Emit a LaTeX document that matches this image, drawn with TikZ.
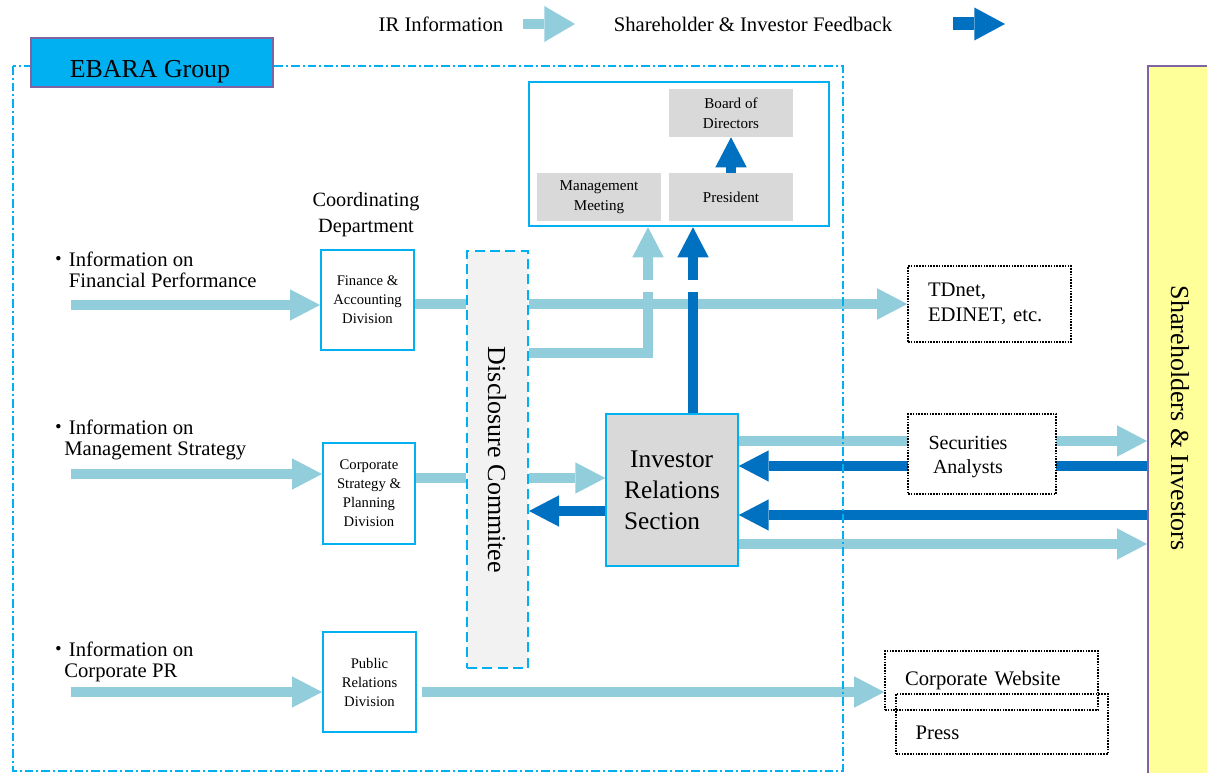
\documentclass[tikz,border=0pt]{standalone}
\usepackage{fontspec}
\setmainfont{Liberation Serif}
\newfontfamily\cjk{Noto Sans CJK JP}
\usetikzlibrary{arrows.meta,calc}
\definecolor{ltc}{HTML}{92CDDC}
\definecolor{dkc}{HTML}{0070C0}
\definecolor{cyc}{HTML}{00B0F0}
\definecolor{grc}{HTML}{D9D9D9}
\definecolor{dsc}{HTML}{F2F2F2}
\definecolor{yel}{HTML}{FFFF99}
\definecolor{pur}{HTML}{8064A2}
\begin{document}
\begin{tikzpicture}[x=0.75pt,y=-0.75pt,
  lt/.style={draw=ltc,line width=7.5pt,-{Triangle[length=22.5pt,width=23.5pt,line width=0pt]}},
  ltl/.style={draw=ltc,line width=7.5pt},
  dk/.style={draw=dkc,line width=7.5pt,-{Triangle[length=22.5pt,width=23.5pt,line width=0pt]}},
  dkl/.style={draw=dkc,line width=7.5pt},
  divbox/.style={draw=cyc,line width=1.5pt,fill=white,inner sep=0pt,minimum width=69.75pt,minimum height=75pt,align=center,font=\fontsize{11}{14.25}\selectfont},
  graybox/.style={fill=grc,inner sep=0pt,minimum width=93pt,minimum height=36pt,align=center,font=\fontsize{11.3}{15}\selectfont},
  dotbox/.style={draw=black,line width=1.2pt,dash pattern=on 1.2pt off 0.9pt,inner sep=0pt},
  lbl/.style={inner sep=0pt,font=\fontsize{15.5}{19}\selectfont}]
\fill[white] (0,0) rectangle (1207,773);
\useasboundingbox (0,0) rectangle (1207,773);

% shareholders bar
\node[draw=pur,line width=1.5pt,fill=yel,inner sep=0pt,minimum width=50.25pt,minimum height=535.5pt] (sh) at (1181.5,423) {};
\node[lbl,rotate=-90,font=\fontsize{19.5}{22}\selectfont] (shtxt) at (1180,418) {Shareholders \& Investors};

% management
\node[draw=cyc,line width=1.9pt,inner sep=0pt,minimum width=225pt,minimum height=108pt] (mgmt) at (679,154) {};
\node[graybox] (board) at (731,113) {Board of\\Directors};
\node[graybox] (meet) at (599,197) {Management\\Meeting};
\node[graybox] (pres) at (731,197) {President};
\draw[dk,line width=7pt] (pres.north) -- (board.south);

% disclosure committee
\node[draw=cyc,fill=dsc,line width=1.5pt,dash pattern=on 7.5pt off 4pt,inner sep=0pt,minimum width=45.75pt,minimum height=312.75pt] (disc) at (497.5,459.5) {};
\node[rotate=-90,inner sep=0pt,font=\fontsize{19.5}{22}\selectfont] (disctxt) at (497,460) {Disclosure Commitee};

% divisions
\node[lbl,align=center,font=\fontsize{15.2}{19.5}\selectfont] (coord) at (366,215) {Coordinating\\Department};
\node[divbox] (fin) at (367.5,300) {Finance \&\\Accounting\\Division};
\node[divbox,minimum width=69pt,minimum height=75.75pt] (cs) at (369,493.5) {Corporate\\Strategy \&\\Planning\\Division};
\node[divbox] (pr) at (369.5,682) {Public\\Relations\\Division};

% IR section
\node[draw=cyc,fill=grc,line width=1.1pt,inner sep=0pt,minimum width=99pt,minimum height=114pt,align=left,font=\fontsize{19}{23.25}\selectfont] (ir) at (672,490) {\hspace*{4.5pt}Investor\\Relations\\Section};

% outside boxes
\node[dotbox,minimum width=122.25pt,minimum height=57pt,text width=92.25pt,align=left,font=\fontsize{15.5}{18.75}\selectfont] (td) at (989.5,304) {TDnet,\\EDINET, etc.};
\node[dotbox,minimum width=159pt,minimum height=45pt] (press) at (1002,724) {};
\node[lbl] (presstxt) at (937.5,733) {Press};
\node[dotbox,minimum width=159.75pt,minimum height=44.25pt,text width=129.75pt,align=left,font=\fontsize{15.5}{18}\selectfont] (web) at (991.5,680.5) {Corporate Website};

% level coordinates
\coordinate (yA) at (0,304);
\coordinate (yB) at (0,478);
\coordinate (yC) at (0,353);
\coordinate (yG) at (0,511);
\coordinate (yE) at (0,441);
\coordinate (yF) at (0,466);
\coordinate (yH) at (0,515);
\coordinate (yI) at (0,544);
\coordinate (yW) at (0,692);
\coordinate (xL) at (648,0);
\coordinate (xD) at (693,0);
\coordinate (gLo) at (0,292);
\coordinate (gHi) at (0,280);

% input arrows
\coordinate (s1) at (71,305);
\coordinate (s2) at (71,474);
\coordinate (s3) at (71,692);
\draw[lt] (s1) -- (s1 -| fin.west);
\draw[lt] (s2) -- (s2 -| cs.west);
\draw[lt] (s3) -- (s3 -| pr.west);

\node[lbl,align=left,anchor=west,font=\fontsize{15.5}{15.75}\selectfont] (inf1) at (48,269.5) {{\cjk ・}Information on\\\hspace*{15.5pt}Financial Performance};
\node[lbl,align=left,anchor=west,font=\fontsize{15.5}{15.75}\selectfont] (inf2) at (48,439.5) {{\cjk ・}Information on\\\hspace*{12pt}Management Strategy};
\node[lbl,align=left,anchor=west,font=\fontsize{15.5}{15.75}\selectfont] (inf3) at (48,662) {{\cjk ・}Information on\\\hspace*{12pt}Corporate PR};

% internal flows
\draw[ltl] (fin.east |- yA) -- (disc.west |- yA);
\draw[ltl] (cs.east |- yB) -- (disc.west |- yB);
\draw[lt] (disc.east |- yA) -- (td.west |- yA);
\draw[lt] (disc.east |- yB) -- (ir.west |- yB);
\draw[dk] (ir.west |- yG) -- (disc.east |- yG);
\draw[ltl] (disc.east |- yC) -| (xL |- gLo);
\draw[lt] (xL |- gHi) -- (xL |- mgmt.south);
\draw[dkl] (ir.north -| xD) -- (xD |- gLo);
\draw[dk] (xD |- gHi) -- (xD |- mgmt.south);
\draw[lt] (ir.east |- yE) -- (sh.west |- yE);
\draw[dk] (sh.west |- yF) -- (ir.east |- yF);
\draw[dk] (sh.west |- yH) -- (ir.east |- yH);
\draw[lt] (ir.east |- yI) -- (sh.west |- yI);
\draw[lt,shorten <=4pt] (pr.east |- yW) -- (web.west |- yW);

% securities analysts box over the lines
\node[dotbox,fill=white,minimum width=111pt,minimum height=60pt] (sa) at (982,454) {};
\node[lbl,align=center,font=\fontsize{15}{18}\selectfont] (satxt) at (968,457) {Securities\\Analysts};

% group frame
\draw[cyc,line width=1.5pt,dash pattern=on 6.5pt off 2.25pt on 1.5pt off 2.25pt] (13,66) rectangle (843,771);
\node[draw=pur,fill=cyc,line width=1.2pt,minimum width=181.5pt,minimum height=36.75pt,inner sep=0pt] (ebara) at (152,62.5) {};
\node[lbl,font=\fontsize{19.4}{22}\selectfont] (ebaratxt) at (150,72) {EBARA Group};

% legend
\node[lbl] (legir) at (441,24) {IR Information};
\coordinate (la1) at (523,24);
\coordinate (la2) at (575,24);
\draw[draw=ltc,line width=7.5pt,-{Triangle[length=23pt,width=27pt,line width=0pt]}] (la1) -- (la2);
\node[lbl] (legfb) at (753,24) {Shareholder \& Investor Feedback};
\coordinate (lb1) at (953,24);
\coordinate (lb2) at (1005,24);
\draw[draw=dkc,line width=9.75pt,-{Triangle[length=23pt,width=24.75pt,line width=0pt]}] (lb1) -- (lb2);
\end{tikzpicture}
\end{document}
